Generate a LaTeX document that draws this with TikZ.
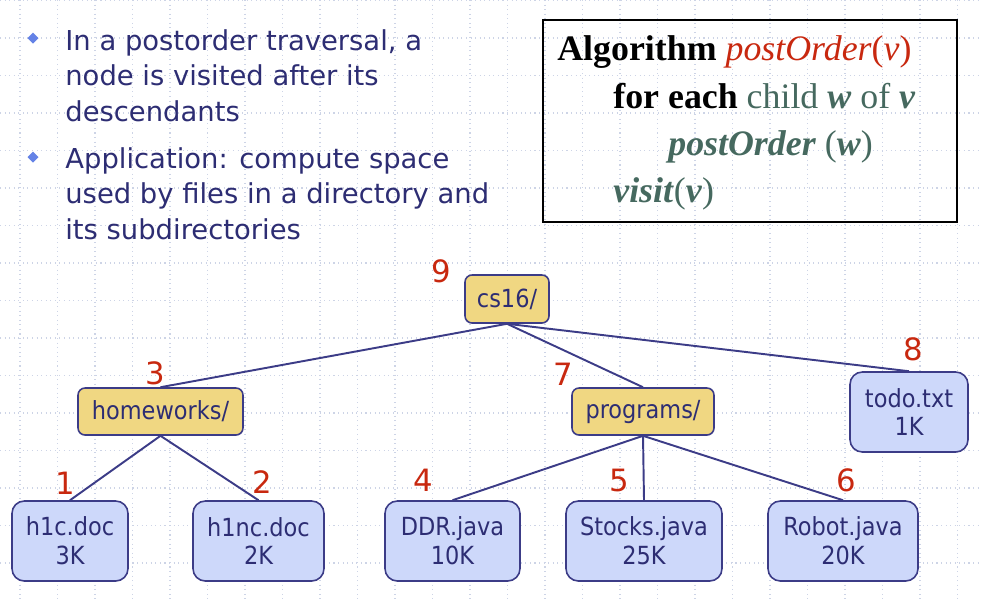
\documentclass[tikz,border=0pt]{standalone}
\usepackage{fontspec}
\setmainfont{Liberation Serif}
\newfontfamily\slidefont{DejaVu Sans}
\newfontfamily\boxfont{DejaVu Sans Condensed}
\usepackage{xcolor}
\usepackage{tikz}
\usetikzlibrary{positioning}

\definecolor{slideblue}{RGB}{45,45,115}
\definecolor{bulletblue}{RGB}{100,130,230}
\definecolor{dirtan}{RGB}{240,215,130}
\definecolor{fileblue}{RGB}{205,216,250}
\definecolor{edgeblue}{RGB}{60,60,135}
\definecolor{ordred}{RGB}{200,40,15}
\definecolor{codegreen}{RGB}{70,105,95}
\definecolor{gridgray}{RGB}{205,212,230}

\tikzset{
  gridline/.style={gridgray, dotted, line width=0.6pt},
  treebox/.style={draw=edgeblue, line width=0.9pt, text=slideblue, inner sep=0pt,
    font=\boxfont\fontsize{14.2}{16.5}\selectfont, align=center},
  dirbox/.style={treebox, fill=dirtan, rounded corners=4pt, minimum height=0.94cm},
  filebox/.style={treebox, fill=fileblue, rounded corners=7pt, minimum height=1.6cm},
  ordnum/.style={font=\slidefont\fontsize{17.5}{19}\selectfont, text=ordred, inner sep=0pt},
  treeedge/.style={edgeblue, line width=1.1pt},
  bullettext/.style={font=\slidefont\fontsize{15.6}{20.3}\selectfont, text=slideblue,
    align=left, anchor=north west, inner sep=0pt},
  algoline/.style={font=\fontsize{20.4}{24}\selectfont, anchor=base west, inner sep=0pt}
}

\begin{document}
\begin{tikzpicture}[x=0.02cm, y=-0.02cm]
    \useasboundingbox (0,0) rectangle (982,600);

    % background grid
    \foreach \gx in {20,57.5,...,982}
    \draw[gridline] (\gx,0) -- (\gx,600);
    \foreach \gy in {0.5,38,...,600}
    \draw[gridline] (0,\gy) -- (982,\gy);

    % bullets
    \foreach \by in {38,157}
    \fill[bulletblue] (33,\by-5.5) -- (38.5,\by) -- (33,\by+5.5) -- (27.5,\by) -- cycle;
    \node[bullettext] (first) at (65,29) {In a postorder traversal, a\\node is visited after its\\descendants};
    \node[bullettext] (second) at (65,147) {Application: compute space\\used by files in a directory and\\its subdirectories};

    % algorithm box
    \draw[line width=1.2pt] (543,20) rectangle (957,222);
    \node[algoline] (algo) at (557,60) {\textbf{Algorithm} {\color{ordred}\textit{postOrder}(\textit{v})}};
    \node[algoline] (loop) at (613,108) {\textbf{for each} {\color{codegreen}child \textbf{\textit{w}} of \textbf{\textit{v}}}};
    \node[algoline] (recur) at (668,155) {\color{codegreen}\textbf{\textit{postOrder}} (\textbf{\textit{w}})};
    \node[algoline] (visit) at (613,202) {\color{codegreen}\textbf{\textit{visit}}(\textbf{\textit{v}})};

    % directory tree
    \node[dirbox, minimum width=1.68cm, minimum height=0.96cm] (cs) at (507,299) {cs16/};
    \node[dirbox, minimum width=3.3cm] (hw) at (160.5,411.5) {homeworks/};
    \node[dirbox, minimum width=2.84cm] (prog) at (643,411.5) {programs/};
    \node[filebox, minimum width=2.36cm] (todo) at (909,412) {todo.txt\\1K};
    \node[filebox, minimum width=2.32cm] (hic) at (70,541) {h1c.doc\\3K};
    \node[filebox, minimum width=2.62cm] (hinc) at (258.5,541) {h1nc.doc\\2K};
    \node[filebox, minimum width=2.7cm] (ddr) at (452.5,541) {DDR.java\\10K};
    \node[filebox, minimum width=3.12cm] (stocks) at (644,541) {Stocks.java\\25K};
    \node[filebox, minimum width=3cm] (robot) at (843,541) {Robot.java\\20K};

    \draw[treeedge] (cs.south) -- (hw.north);
    \draw[treeedge] (cs.south) -- (prog.north);
    \draw[treeedge] (cs.south) -- (todo.north);
    \draw[treeedge] (hw.south) -- (hic.north);
    \draw[treeedge] (hw.south) -- (hinc.north);
    \draw[treeedge] (prog.south) -- (ddr.north);
    \draw[treeedge] (prog.south) -- (stocks.north);
    \draw[treeedge] (prog.south) -- (robot.north);

    % visit order
    \foreach \ox/\oy/\onum in {441/271/9, 155/373/3, 563/374/7, 913/349/8,
        65/483/1, 262/482/2, 423/480/4, 619/480/5, 846/480/6}
    \node[ordnum] (ord\onum) at (\ox,\oy) {\onum};
\end{tikzpicture}
\end{document}
